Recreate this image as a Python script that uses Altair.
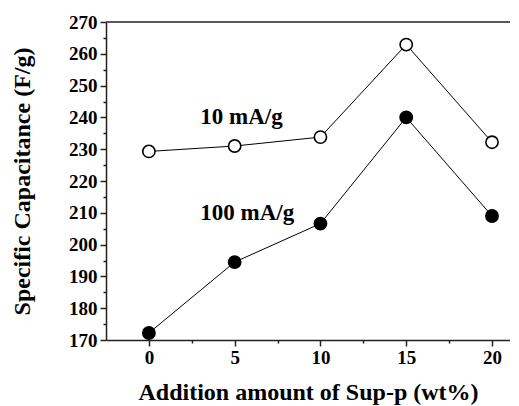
import altair as alt
import pandas as pd

# ---- data ----
x_vals = [0, 5, 10, 15, 20]
cap_10 = [229.3, 231.0, 233.8, 262.9, 232.2]
cap_100 = [172.2, 194.5, 206.6, 240.0, 209.0]
series_names = ["10 mA/g", "100 mA/g"]
label_x = [3.0, 3.0]
label_y = [240.0, 210.0]
x_major = [0, 5, 10, 15, 20]
x_minor = [2.5, 7.5, 12.5, 17.5]
y_major = [170, 180, 190, 200, 210, 220, 230, 240, 250, 260, 270]
y_minor = [175, 185, 195, 205, 215, 225, 235, 245, 255, 265]

rows = []
for name, vals in zip(series_names, [cap_10, cap_100]):
    for xv, yv in zip(x_vals, vals):
        rows.append({"amount": xv, "cap": yv, "series": name})
df = pd.DataFrame(rows)
lab = pd.DataFrame({"x": label_x, "y": label_y, "text": series_names})
top = pd.DataFrame({"y": [270]})

FONT = "Liberation Serif"
AX = "#222222"

xscale = alt.Scale(domain=[-2.5, 21.05], nice=False, zero=False)
yscale = alt.Scale(domain=[170, 270], nice=False, zero=False)

xaxis = alt.Axis(
    values=x_major, ticks=True, tickSize=6, tickColor=AX, tickWidth=1.5,
    labelOverlap=False, title="Addition amount of Sup-p (wt%)", grid=False,
    labelPadding=2, titlePadding=13,
)
yaxis = alt.Axis(
    values=y_major, ticks=True, tickSize=6, tickColor=AX, tickWidth=1.5,
    labelOverlap=False, title="Specific Capacitance (F/g)", grid=False,
    labelPadding=3, titlePadding=34,
)

base = alt.Chart(df).encode(
    x=alt.X("amount:Q", scale=xscale, axis=xaxis),
    y=alt.Y("cap:Q", scale=yscale, axis=yaxis),
)

lines = base.mark_line(color="black", strokeWidth=1).encode(detail="series:N")
points = base.mark_point(
    shape="circle", size=150, filled=False, stroke="black", strokeWidth=1.6, opacity=1
).encode(
    fill=alt.Fill("series:N", scale=alt.Scale(domain=series_names, range=["white", "black"]), legend=None)
)

texts = alt.Chart(lab).mark_text(
    align="left", baseline="middle", font=FONT, fontSize=23, fontWeight="bold", color="black"
).encode(
    x=alt.X("x:Q", scale=xscale, axis=xaxis),
    y=alt.Y("y:Q", scale=yscale, axis=yaxis),
    text="text:N",
)

topline = alt.Chart(top).mark_rule(color=AX, strokeWidth=1.5).encode(
    y=alt.Y("y:Q", scale=yscale, axis=yaxis)
)

main = alt.layer(lines, points, texts, topline)

minor = alt.Chart(df).mark_point(opacity=0).encode(
    x=alt.X("amount:Q", scale=xscale, axis=alt.Axis(
        orient="bottom", values=x_minor, ticks=True, tickSize=3, tickColor=AX, tickWidth=1.5,
        labels=False, domain=False, title=None, grid=False)),
    y=alt.Y("cap:Q", scale=yscale, axis=alt.Axis(
        orient="left", values=y_minor, ticks=True, tickSize=3, tickColor=AX, tickWidth=1.5,
        labels=False, domain=False, title=None, grid=False)),
)

chart = alt.layer(main, minor).resolve_scale(x="independent", y="independent").properties(
    width=404,
    height=318,
    autosize=alt.AutoSizeParams(type="none"),
    padding={"left": 98, "top": 14, "right": 0, "bottom": 66},
).configure_view(stroke=None).configure_axis(
    labelFont=FONT,
    labelFontSize=19,
    labelFontWeight="bold",
    labelColor="black",
    labelOverlap=False,
    titleFont=FONT,
    titleFontSize=24,
    titleFontWeight="bold",
    titleColor="black",
    domainColor=AX,
    domainWidth=1.5,
)

chart.save("out.html", embed_options={"renderer": "svg", "actions": False})
